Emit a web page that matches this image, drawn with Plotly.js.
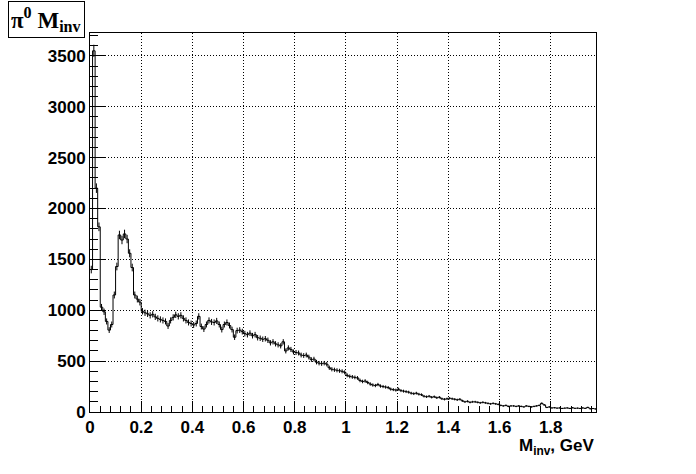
<!DOCTYPE html>
<html>
<head>
<meta charset="utf-8">
<script src="https://cdn.plot.ly/plotly-3.0.1.min.js"></script>
<style>html,body{margin:0;padding:0;background:#fff;}#plot{width:696px;height:474px;}</style>
</head>
<body>
<div id="plot"></div>
<script>
// Histogram: pi0 invariant mass, bins of 0.01 GeV starting at 0
const binWidth = 0.01;
const binStart = 0;
const counts = [
  1400, 3550, 2200, 1820, 1030, 985, 890, 805, 860, 1150,
  1430, 1740, 1690, 1750, 1700, 1560, 1420, 1150, 1110, 1080,
  990, 975, 965, 950, 960, 935, 920, 910, 900, 890,
  845, 900, 930, 955, 940, 950, 920, 900, 880, 870,
  855, 870, 940, 840, 815, 860, 900, 885, 880, 895,
  860, 810, 860, 880, 850, 810, 735, 800, 805, 790,
  770, 760, 775, 750, 760, 730, 725, 715, 720, 705,
  680, 690, 670, 660, 650, 690, 600, 630, 615, 590,
  585, 580, 560, 555, 560, 540, 515, 520, 490, 480,
  475, 480, 470, 435, 420, 415, 410, 405, 400, 390,
  360, 350, 345, 340, 335, 310, 300, 305, 290, 275,
  265, 260, 270, 255, 250, 245, 240, 225, 220, 215,
  225, 210, 205, 200, 195, 185, 180, 185, 175, 170,
  155, 150, 155, 145, 150, 140, 145, 130, 125, 130,
  135, 130, 125, 120, 125, 110, 100, 105, 95, 100,
  100, 95, 90, 95, 90, 85, 80, 85, 80, 75,
  65, 60, 65, 55, 60, 60, 55, 60, 55, 50,
  60, 55, 50, 55, 60, 65, 85, 70, 45, 50,
  40, 42, 38, 40, 35, 38, 40, 35, 42, 36,
  38, 35, 40, 36, 45, 32, 34, 30
];
const xTickVals = [0, 0.2, 0.4, 0.6, 0.8, 1, 1.2, 1.4, 1.6, 1.8];
const yTickVals = [0, 500, 1000, 1500, 2000, 2500, 3000, 3500];

const edges = counts.map((_, i) => binStart + i * binWidth);
const stepX = edges.concat([binStart + counts.length * binWidth]);
const stepY = counts.concat([counts[counts.length - 1]]);
const centers = counts.map((_, i) => binStart + (i + 0.5) * binWidth);
const errs = counts.map(v => Math.sqrt(v));

const tickFont = {family: 'Liberation Sans, Arial, sans-serif', size: 17, color: '#000', weight: 'bold'};

const data = [
  {x: stepX, y: stepY, type: 'scatter', mode: 'lines', line: {shape: 'hv', color: '#000', width: 1}, hoverinfo: 'skip'},
  {x: centers, y: counts, type: 'scatter', mode: 'markers', marker: {size: 1, color: 'rgba(0,0,0,0)'},
   error_y: {type: 'data', array: errs, visible: true, color: '#000', thickness: 1, width: 0}, hoverinfo: 'skip'}
];

const layout = {
  width: 696, height: 474,
  margin: {l: 90, r: 100, t: 33, b: 62, pad: 0},
  paper_bgcolor: '#fff', plot_bgcolor: '#fff',
  showlegend: false,
  xaxis: {
    range: [0, 1.977], tickvals: xTickVals, ticks: 'inside', ticklen: 11, tickwidth: 1, tickcolor: '#000',
    showline: true, linecolor: '#000', linewidth: 1, mirror: true,
    showgrid: true, gridcolor: '#000', griddash: '1px,2px', gridwidth: 1,
    zeroline: false, tickfont: tickFont,
    minor: {dtick: 0.04, tick0: 0, ticks: 'inside', ticklen: 6, tickcolor: '#000', showgrid: false}
  },
  yaxis: {
    range: [0, 3725], tickvals: yTickVals, ticks: 'inside', ticklen: 15, tickwidth: 1, tickcolor: '#000',
    showline: true, linecolor: '#000', linewidth: 1, mirror: true,
    showgrid: true, gridcolor: '#000', griddash: '1px,2px', gridwidth: 1,
    zeroline: false, tickfont: tickFont,
    minor: {dtick: 100, tick0: 0, ticks: 'inside', ticklen: 8, tickcolor: '#000', showgrid: false}
  },
  annotations: [
    {text: 'π<sup>0</sup> M<sub>inv</sub>', xref: 'paper', yref: 'paper', x: -0.086, y: 1.036,
     xanchor: 'center', yanchor: 'middle', showarrow: false,
     font: {family: 'Liberation Serif, Times New Roman, serif', size: 23, color: '#000', weight: 'bold'},
     bordercolor: '#000', borderwidth: 1, borderpad: 2, bgcolor: '#fff'},
    {text: 'M<sub>inv</sub>, GeV', xref: 'paper', yref: 'paper', x: 1, y: -0.058,
     xanchor: 'right', yanchor: 'top', showarrow: false,
     font: {family: 'Liberation Sans, Arial, sans-serif', size: 17, color: '#000', weight: 'bold'}}
  ]
};

Plotly.newPlot('plot', data, layout, {displayModeBar: false, staticPlot: true});
</script>
</body>
</html>
